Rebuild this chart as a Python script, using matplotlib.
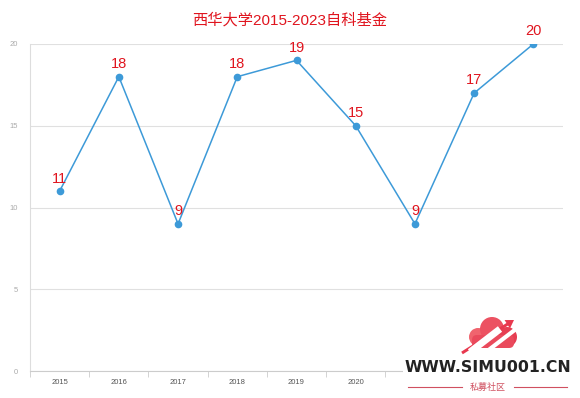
import matplotlib.pyplot as plt
from matplotlib.patches import Circle, Rectangle, FancyArrow, FancyBboxPatch
import numpy as np

plt.rcParams['font.family'] = ['Liberation Sans', 'Noto Sans CJK SC', 'DejaVu Sans']

years = ['2015', '2016', '2017', '2018', '2019', '2020', '2021', '2022', '2023']
counts = [11, 18, 9, 18, 19, 15, 9, 17, 20]
yticks = [0, 5, 10, 15, 20]

fig = plt.figure(figsize=(5.8, 3.98), dpi=100)
ax = fig.add_axes([30 / 580, 1 - 371 / 398, 533 / 580, 327 / 398])

x = np.arange(len(years))
ax.plot(x, counts, color='#3d9ad8', lw=1.1, marker='o', ms=4.5, zorder=3)
for xi, v in zip(x, counts):
    ax.annotate(str(v), (xi, v), xytext=(0, 4), textcoords='offset points',
                ha='center', va='bottom', color='#e0141e', fontsize=10.5)

ax.set_xlim(-0.5, len(years) - 0.5)
ax.set_ylim(0, 20)
ax.set_yticks(yticks)
ax.set_yticklabels([str(t) for t in yticks])
ax.set_xticks(x)
ax.set_xticklabels(years)
# last three year labels sit under the watermark in the original
for lab in ax.get_xticklabels()[6:]:
    lab.set_visible(False)
ax.set_xticks(np.arange(-0.5, len(years), 1), minor=True)
ax.tick_params(axis='x', which='major', length=0, labelsize=5.5, colors='#555555', pad=6)
ax.tick_params(axis='x', which='minor', length=4, color='#cccccc')
ax.tick_params(axis='y', length=0, labelsize=5.5, colors='#aaaaaa', pad=9)
ax.grid(axis='y', color='#e0e0e0', lw=0.8)
ax.set_axisbelow(True)
for s in ['top', 'right']:
    ax.spines[s].set_visible(False)
ax.spines['left'].set_color('#dddddd')
ax.spines['bottom'].set_color('#cccccc')

fig.text(0.5, 1 - 20 / 398, '西华大学2015-2023自科基金', ha='center', va='center',
         color='#e0141e', fontsize=11)

# watermark overlay, pixel coordinates
wm = fig.add_axes([0, 0, 1, 1], zorder=10)
wm.set_xlim(0, 580)
wm.set_ylim(398, 0)
wm.axis('off')
wm.patch.set_alpha(0)
wm.add_patch(Rectangle((403, 357), 177, 41, color='white', lw=0))

# cloud logo
for cx, cy, r, c in [(478, 337, 9, '#f0646e'), (492, 329, 12, '#ec5262'),
                     (507, 337, 10, '#e63e52')]:
    wm.add_patch(Circle((cx, cy), r, color=c, lw=0))
wm.add_patch(FancyBboxPatch((472, 335), 42, 13, boxstyle='round,pad=0,rounding_size=5',
                            color='#ea4a5c', lw=0))
wm.plot([470, 500], [352, 329], color='white', lw=5, solid_capstyle='butt')
wm.plot([486, 516], [352, 329], color='white', lw=3, solid_capstyle='butt')
wm.add_patch(FancyArrow(462, 353, 52, -33, width=3, head_width=10, head_length=8,
                        color='#e8384e', lw=0, length_includes_head=True))

wm.text(488, 368, 'WWW.SIMU001.CN', ha='center', va='center',
        color='#222222', fontsize=11.3, fontweight='bold', family='DejaVu Sans')
wm.text(488, 387, '私募社区', ha='center', va='center',
        color='#d05060', fontsize=6.5, family='Noto Sans CJK SC')
wm.plot([408, 462], [387, 387], color='#d05060', lw=0.8)
wm.plot([514, 567], [387, 387], color='#d05060', lw=0.8)

fig.savefig('out.png', dpi=100)
